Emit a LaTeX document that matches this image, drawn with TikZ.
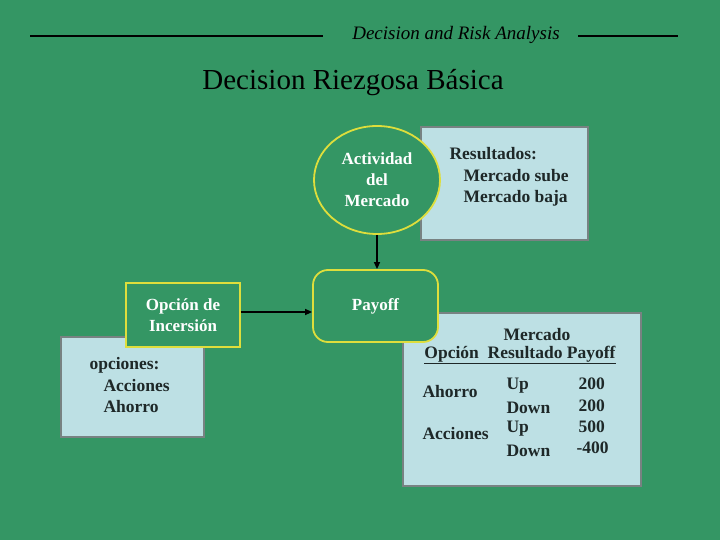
\documentclass[tikz,border=0pt]{standalone}
\usepackage{fontspec}
\setmainfont{Liberation Serif}
\usetikzlibrary{arrows.meta,shapes.geometric}
\definecolor{bg}{RGB}{52,150,100}
\definecolor{lb}{RGB}{189,224,228}
\definecolor{yl}{RGB}{222,222,60}
\definecolor{gb}{RGB}{120,130,130}
\definecolor{tx}{RGB}{30,40,40}
\tikzset{
  lbox/.style={draw=gb,line width=1.5pt,fill=lb},
  gbox/.style={draw=yl,line width=1.8pt,fill=bg},
  wt/.style={text=white,font=\bfseries\fontsize{17}{21}\selectfont,align=center},
  dt/.style={text=tx,font=\bfseries\fontsize{17.5}{21.5}\selectfont},
  arr/.style={-{Triangle[length=7pt,width=6pt]},line width=1.5pt,black}
}
\begin{document}
\begin{tikzpicture}[x=1pt,y=-1pt]
\fill[bg] (0,0) rectangle (720,540);
\useasboundingbox (0,0) rectangle (720,540);
% header
\coordinate (h1) at (30,36); \coordinate (h2) at (323,36);
\coordinate (h3) at (578,36); \coordinate (h4) at (678,36);
\draw[line width=2pt] (h1)--(h2); \draw[line width=2pt] (h3)--(h4);
\node[font=\itshape\fontsize{19}{22}\selectfont] (hd) at (456,35) {Decision and Risk Analysis};
\node[font=\fontsize{29}{33}\selectfont] (title) at (353,83) {Decision Riezgosa Básica};
% boxes behind
\draw[lbox] (421,127) rectangle (588,240);
\node[dt,anchor=north west,align=left] (res) at (446,144) {Resultados:\\\hspace{14pt}Mercado sube\\\hspace{14pt}Mercado baja};
\draw[lbox] (403,313) rectangle (641,486);
\draw[lbox] (61,337) rectangle (204,437);
\node[dt,anchor=north west,align=left] (opc) at (86,354) {opciones:\\\hspace{14pt}Acciones\\\hspace{14pt}Ahorro};
% ellipse
\node[gbox,ellipse,minimum width=126pt,minimum height=108pt,wt] (act) at (377,180) {Actividad\\del\\Mercado};
\node[gbox,rounded corners=15pt,minimum width=125pt,minimum height=72pt,wt] (pay) at (375.5,306) {Payoff};
\node[gbox,minimum width=114pt,minimum height=64pt,wt] (inc) at (183,315) {Opción de\\Incersión};
\draw[arr] (act.south) -- (act.south |- pay.north);
\draw[arr] (inc.east |- 0,312) -- (pay.west |- 0,312);
% table
\node[dt,inner sep=1pt] (t0) at (537,335) {Mercado};
\node[dt,inner sep=1pt] (t1) at (520,355) {\underline{Opción\ \ Resultado Payoff}};
\node[dt,anchor=west] (a1) at (419,392) {Ahorro};
\node[dt,anchor=west] (a2) at (419,434) {Acciones};
\node[dt,anchor=west] (u1) at (503,386) {Up};
\node[dt,anchor=west] (u2) at (503,408) {Down};
\node[dt,anchor=west] (u3) at (503,429) {Up};
\node[dt,anchor=west] (u4) at (503,451) {Down};
\node[dt,anchor=west] (p1) at (575,384) {200};
\node[dt,anchor=west] (p2) at (575,406) {200};
\node[dt,anchor=west] (p3) at (575,427) {500};
\node[dt,anchor=west] (p4) at (573,448) {-400};
\end{tikzpicture}
\end{document}
